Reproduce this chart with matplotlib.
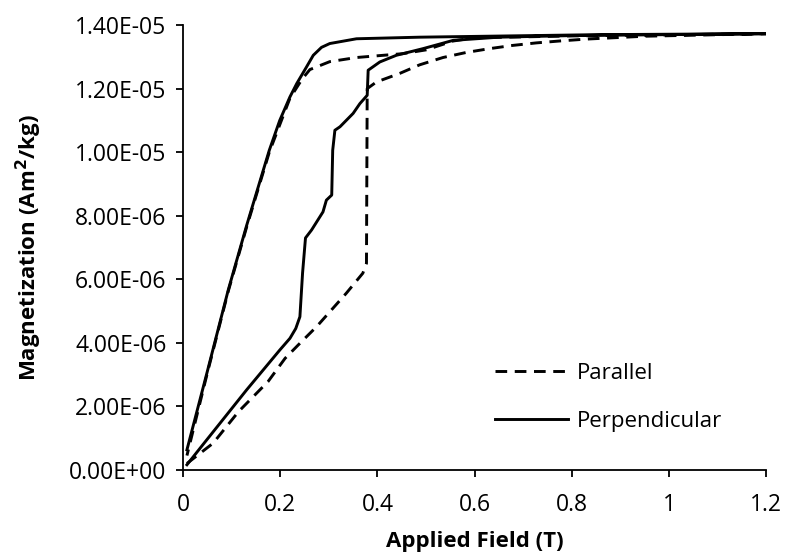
import matplotlib
matplotlib.use("Agg")
import matplotlib.pyplot as plt
from matplotlib.ticker import FuncFormatter, MultipleLocator
import numpy as np

plt.rcParams['font.family'] = ['Open Sans', 'DejaVu Sans']

# Perpendicular: initial curve up to 1.2 T, then back down (magnetization in 1e-6 Am2/kg)
perp_field = [0.008, 0.035, 0.131, 0.199, 0.22, 0.232, 0.2405, 0.246, 0.252, 0.2645,
              0.288, 0.295, 0.306, 0.308, 0.3125, 0.323, 0.35, 0.364, 0.379, 0.381,
              0.405, 0.439, 0.494, 0.556, 0.65, 0.8, 1.0, 1.2,
              0.857, 0.487, 0.357, 0.302, 0.285, 0.268, 0.254, 0.234, 0.22, 0.199,
              0.1775, 0.131, 0.093, 0.05, 0.008]
perp_mag = [0.16, 0.68, 2.52, 3.77, 4.14, 4.45, 4.82, 6.2, 7.3, 7.55,
            8.12, 8.49, 8.65, 10.06, 10.69, 10.8, 11.22, 11.53, 11.79, 12.58,
            12.84, 13.05, 13.26, 13.52, 13.62, 13.67, 13.7, 13.73,
            13.7, 13.62, 13.57, 13.42, 13.3, 13.05, 12.68, 12.16, 11.74, 11.0,
            10.06, 7.7, 5.66, 3.1, 0.63]

# Parallel
par_field = [0.008, 0.062, 0.114, 0.175, 0.21, 0.237, 0.275, 0.336, 0.37, 0.3775,
             0.379, 0.398, 0.446, 0.487, 0.535, 0.583, 0.631, 0.678, 0.727, 0.775,
             0.83, 0.95, 1.2,
             0.8, 0.6, 0.556, 0.5, 0.452, 0.357, 0.302, 0.261, 0.245, 0.22,
             0.1775, 0.131, 0.093, 0.05, 0.008]
par_mag = [0.2, 0.84, 1.83, 2.78, 3.51, 3.93, 4.51, 5.56, 6.19, 6.5,
           12.0, 12.21, 12.48, 12.75, 12.98, 13.14, 13.26, 13.36, 13.44, 13.5,
           13.56, 13.65, 13.73,
           13.66, 13.6, 13.5, 13.22, 13.1, 12.98, 12.85, 12.6, 12.3, 11.7,
           10.0, 7.65, 5.62, 3.05, 0.45]

fig = plt.figure(figsize=(7.89, 5.58), dpi=100)
ax = fig.add_axes([0.232, 0.158, 0.739, 0.797])

ax.plot(par_field, np.array(par_mag) * 1e-6, color='black', lw=2.1,
        dashes=(4, 2.6), label='Parallel')
ax.plot(perp_field, np.array(perp_mag) * 1e-6, color='black', lw=2.1,
        label='Perpendicular')

ax.set_xlim(0, 1.2)
ax.set_ylim(0, 1.4e-5)
ax.xaxis.set_major_locator(MultipleLocator(0.2))
ax.yaxis.set_major_locator(MultipleLocator(2e-6))
ax.xaxis.set_major_formatter(FuncFormatter(lambda v, p: f"{v:g}"))
ax.yaxis.set_major_formatter(FuncFormatter(lambda v, p: f"{v:.2E}"))

for side in ['top', 'right']:
    ax.spines[side].set_visible(False)
for side in ['left', 'bottom']:
    ax.spines[side].set_linewidth(1.3)
ax.tick_params(direction='out', length=5, width=1.3, labelsize=16.5, pad=7)
ax.tick_params(axis='x', pad=12)

ax.set_xlabel('Applied Field (T)', fontsize=16, fontweight='bold', labelpad=10)
ax.set_ylabel('Magnetization (Am$^\\mathbf{2}$/kg)', fontsize=16, fontweight='bold', labelpad=18)

ax.legend(loc='upper left', bbox_to_anchor=(0.5, 0.285), frameon=False,
          fontsize=16, handlelength=3.3, handletextpad=0.4, labelspacing=1.2)

plt.savefig('out.png', dpi=100)
plt.close()
